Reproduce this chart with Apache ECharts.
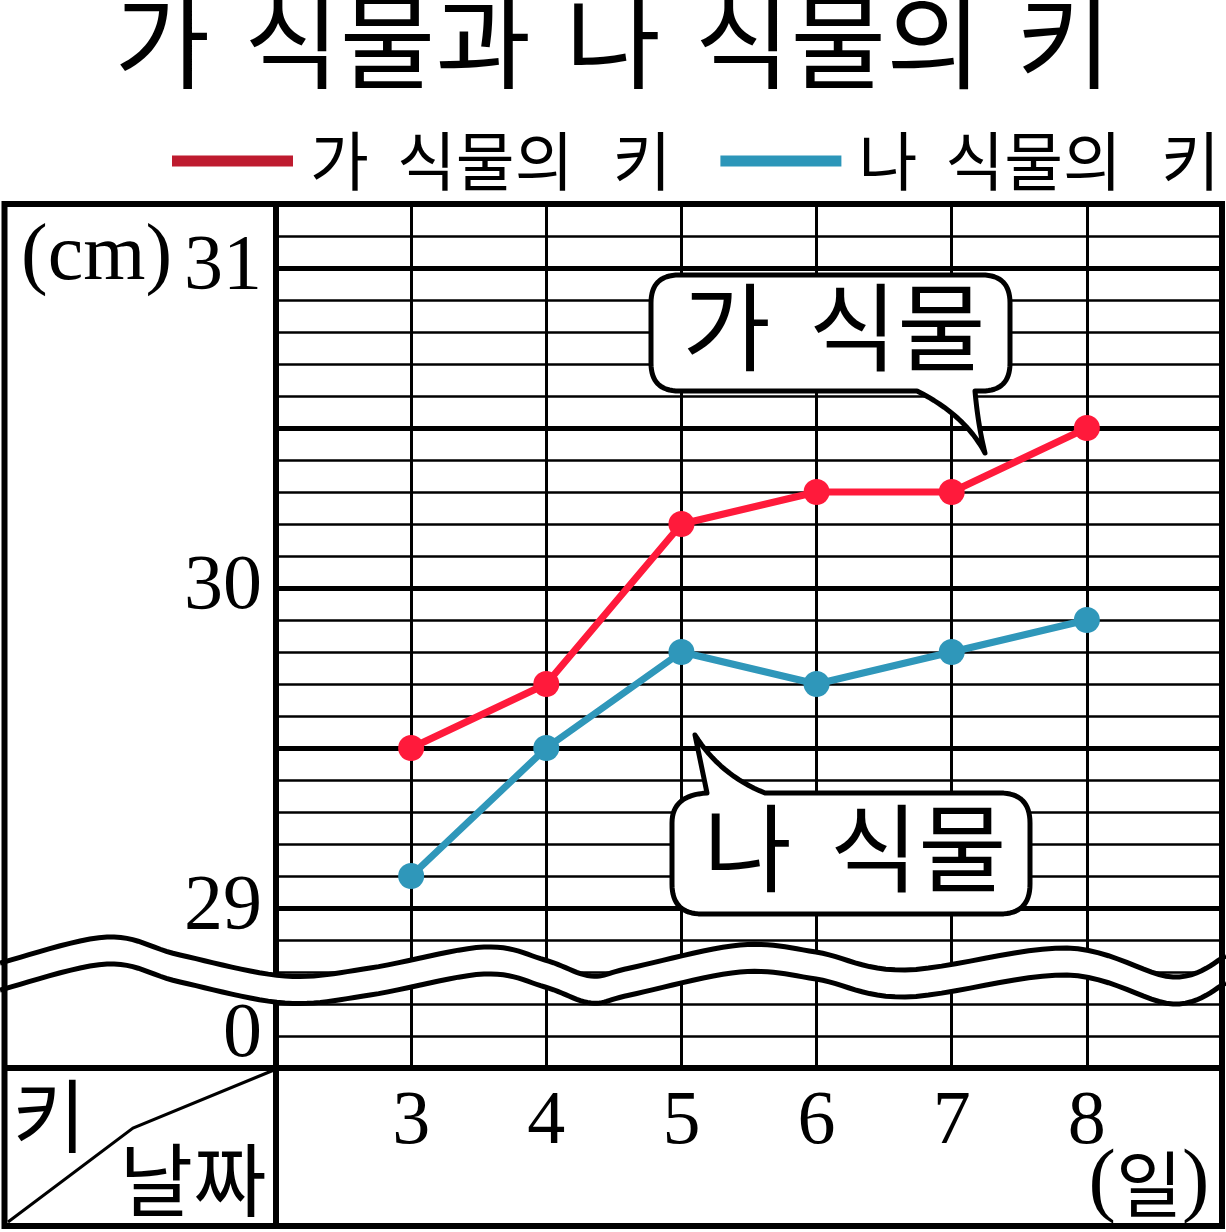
<!DOCTYPE html>
<html>
<head>
<meta charset="utf-8">
<script src="https://cdn.jsdelivr.net/npm/echarts@6/dist/echarts.min.js"></script>
<style>
html,body{margin:0;padding:0;background:#fff;}
#chart{width:1226px;height:1232px;}
</style>
</head>
<body>
<div id="chart"></div>
<script>
// ---- data ----
const days = [3, 4, 5, 6, 7, 8];
const plantA = [29.5, 29.7, 30.2, 30.3, 30.3, 30.5];
const plantB = [29.1, 29.5, 29.8, 29.7, 29.8, 29.9];
const seriesNames = ['가 식물의 키', '나 식물의 키'];
const yTickValues = [28.6, 29, 30, 31];
const yTickLabels = ['0', '29', '30', '31'];

const KR = 'Noto Sans CJK KR';
const SERIF = 'Liberation Serif';
const RED = '#FF1A3B', BLUE = '#2F97BA';
const RED_LEG = '#BE1B2F', BLUE_LEG = '#2C96B9';

const G = {left: 276, top: 204, width: 946, height: 864};

function near(v, t) { return Math.abs(v - t) < 1e-6; }

// sample a simple path (M, H, V, L, Q) into polygon points
function samplePath(cmds) {
  const pts = [];
  let cx = 0, cy = 0;
  cmds.forEach(c => {
    const t = c[0];
    if (t === 'M' || t === 'L') { cx = c[1]; cy = c[2]; pts.push([cx, cy]); }
    else if (t === 'H') { cx = c[1]; pts.push([cx, cy]); }
    else if (t === 'V') { cy = c[1]; pts.push([cx, cy]); }
    else if (t === 'Q') {
      const x0 = cx, y0 = cy, qx = c[1], qy = c[2], x1 = c[3], y1 = c[4];
      for (let i = 1; i <= 16; i++) {
        const s = i / 16, u = 1 - s;
        pts.push([u * u * x0 + 2 * u * s * qx + s * s * x1, u * u * y0 + 2 * u * s * qy + s * s * y1]);
      }
      cx = x1; cy = y1;
    }
  });
  return pts;
}

// Catmull-Rom sampling for smooth wave
function catmull(p, n) {
  const out = [];
  for (let i = 0; i < p.length - 1; i++) {
    const p0 = p[Math.max(0, i - 1)], p1 = p[i], p2 = p[i + 1], p3 = p[Math.min(p.length - 1, i + 2)];
    for (let k = 0; k < n; k++) {
      const t = k / n, t2 = t * t, t3 = t2 * t;
      const f = (a, b, c, d) => 0.5 * ((2 * b) + (-a + c) * t + (2 * a - 5 * b + 4 * c - d) * t2 + (-a + 3 * b - 3 * c + d) * t3);
      out.push([f(p0[0], p1[0], p2[0], p3[0]), f(p0[1], p1[1], p2[1], p3[1])]);
    }
  }
  out.push(p[p.length - 1]);
  return out;
}

const chart = echarts.init(document.getElementById('chart'), null, {renderer: 'canvas'});

// wave (broken-axis decoration) upper line key points
const waveKey = [[0,963],[107,937],[180,955],[285,976],[370,968],[484,947],[545,960],[591,976],[630,968],[740,945],[816,952],[905,970],[1067,948],[1173,977],[1226,956]];
const waveU = catmull(waveKey, 12);
const waveL = waveU.map(p => [p[0], p[1] + 27]);
const waveM = waveU.map(p => [p[0], p[1] + 13.5]);

const option = {
  animation: false,
  backgroundColor: '#fff',
  title: {
    left: 'center', top: -11, padding: 0,
    text: '{w|가}{s| }{w|식물과}{s| }{w|나}{s| }{w|식물의}{s| }{w|키}',
    textStyle: {
      fontSize: 104, fontFamily: KR, fontWeight: 'normal', color: '#000',
      rich: {
        w: {fontSize: 104, fontFamily: KR, color: '#000', lineHeight: 104},
        s: {width: 34, fontSize: 104, lineHeight: 104}
      }
    }
  },
  legend: {
    left: 172, top: 129, padding: 0,
    itemWidth: 121, itemHeight: 11, itemGap: 49,
    icon: 'rect',
    data: [
      {name: seriesNames[0], itemStyle: {color: RED_LEG}},
      {name: seriesNames[1], itemStyle: {color: BLUE_LEG}}
    ],
    formatter: function (name) {
      const p = name.split(' ');
      return '{g| }{w|' + p[0] + '}{s1| }{w|' + p[1] + '}{s2| }{w|' + p[2] + '}';
    },
    textStyle: {
      fontSize: 64, fontFamily: KR, color: '#000',
      rich: {
        w: {fontSize: 64, fontFamily: KR, color: '#000', lineHeight: 64},
        g: {width: 12},
        s1: {width: 28},
        s2: {width: 39}
      }
    }
  },
  grid: {left: G.left, top: G.top, width: G.width, height: G.height},
  xAxis: {
    type: 'value', min: 2, max: 9, interval: 1,
    axisLine: {show: false}, axisTick: {show: false},
    splitLine: {show: true, lineStyle: {color: '#000', width: 3}},
    axisLabel: {
      margin: 17, fontSize: 76, fontFamily: SERIF, color: '#000',
      showMinLabel: true, showMaxLabel: true,
      formatter: function (v) { return days.some(d => near(d, v)) ? String(Math.round(v)) : ''; }
    }
  },
  yAxis: [
    {
      type: 'value', min: 28.5, max: 31.2, interval: 0.1,
      axisLine: {show: false}, axisTick: {show: false},
      splitLine: {show: true, lineStyle: {color: '#000', width: 2.5}},
      axisLabel: {
        margin: 14, fontSize: 78, fontFamily: SERIF, color: '#000',
        padding: [10, 0, 0, 0],
        showMinLabel: true, showMaxLabel: true,
        formatter: function (v) {
          for (let i = 0; i < yTickValues.length; i++) if (near(v, yTickValues[i])) return yTickLabels[i];
          return '';
        }
      }
    },
    {
      type: 'value', min: 28.5, max: 31.2, interval: 0.5, position: 'left',
      axisLine: {show: false}, axisTick: {show: false}, axisLabel: {show: false},
      splitLine: {show: true, lineStyle: {color: '#000', width: 5}}
    }
  ],
  series: [
    {
      type: 'line', name: seriesNames[0],
      data: days.map((d, i) => [d, plantA[i]]),
      symbol: 'circle', symbolSize: 26,
      lineStyle: {width: 7, color: RED}, itemStyle: {color: RED},
      emphasis: {disabled: true}, z: 3
    },
    {
      type: 'line', name: seriesNames[1],
      data: days.map((d, i) => [d, plantB[i]]),
      symbol: 'circle', symbolSize: 26,
      lineStyle: {width: 7, color: BLUE}, itemStyle: {color: BLUE},
      emphasis: {disabled: true}, z: 3
    }
  ]
};
chart.setOption(option);

// speech bubble outlines
const bubbleA = samplePath([
  ['M', 679, 275], ['H', 982], ['Q', 1010, 275, 1010, 303], ['V', 363], ['Q', 1010, 391, 982, 391],
  ['H', 975], ['Q', 978, 425, 985, 453], ['Q', 965, 415, 917, 391], ['H', 679],
  ['Q', 651, 391, 651, 363], ['V', 303], ['Q', 651, 275, 679, 275]
]);
const bubbleB = samplePath([
  ['M', 672, 884], ['V', 823], ['Q', 672, 795, 707, 793], ['L', 695, 735], ['Q', 720, 775, 765, 793],
  ['H', 1000], ['Q', 1030, 793, 1030, 823], ['V', 884], ['Q', 1030, 914, 1000, 914], ['H', 702],
  ['Q', 672, 914, 672, 884]
]);

const right = G.left + G.width, bottom = G.top + G.height;
const graphics = [
  // dividers
  {type: 'line', z: 3, shape: {x1: G.left, y1: G.top, x2: G.left, y2: 1226}, style: {stroke: '#000', lineWidth: 6}},
  {type: 'line', z: 3, shape: {x1: 4.5, y1: bottom, x2: right, y2: bottom}, style: {stroke: '#000', lineWidth: 6}},
  // diagonal in the corner box
  {type: 'polyline', z: 3, shape: {points: [[8, 1222], [133, 1128], [G.left - 2, bottom + 2]]}, style: {stroke: '#000', lineWidth: 3, fill: null}},
  // wave band
  {type: 'polyline', z: 6, shape: {points: waveM}, style: {stroke: '#fff', lineWidth: 24, fill: null}},
  {type: 'polyline', z: 7, shape: {points: waveU}, style: {stroke: '#000', lineWidth: 5, fill: null}},
  {type: 'polyline', z: 7, shape: {points: waveL}, style: {stroke: '#000', lineWidth: 5, fill: null}},
  // speech bubbles
  {type: 'polygon', z: 8, shape: {points: bubbleA}, style: {fill: '#fff', stroke: '#000', lineWidth: 5, lineJoin: 'round'}},
  {type: 'polygon', z: 8, shape: {points: bubbleB}, style: {fill: '#fff', stroke: '#000', lineWidth: 5, lineJoin: 'round'}},
  {type: 'text', z: 9, x: 834, y: 327, style: {text: '{w|가}{s| }{w|식물}', align: 'center', verticalAlign: 'middle',
    rich: {w: {fontSize: 96, fontFamily: KR, fill: '#000', lineHeight: 96}, s: {width: 38}}}},
  {type: 'text', z: 9, x: 855, y: 848, style: {text: '{w|나}{s| }{w|식물}', align: 'center', verticalAlign: 'middle',
    rich: {w: {fontSize: 96, fontFamily: KR, fill: '#000', lineHeight: 96}, s: {width: 38}}}},
  // axis unit labels
  {type: 'text', z: 9, x: 21, y: 258, style: {text: '(cm)', font: '80px "Liberation Serif"', fill: '#000', align: 'left', verticalAlign: 'middle'}},
  {type: 'text', z: 9, x: 1149, y: 1184, style: {text: '{p|(}{k|일}{p|)}', align: 'center', verticalAlign: 'middle',
    rich: {p: {fontSize: 82, fontFamily: SERIF, fill: '#000', lineHeight: 84}, k: {fontSize: 72, fontFamily: KR, fill: '#000', lineHeight: 84}}}},
  {type: 'text', z: 9, x: 49, y: 1116, style: {text: '키', font: '80px "Noto Sans CJK KR"', fill: '#000', align: 'center', verticalAlign: 'middle'}},
  {type: 'text', z: 9, x: 193, y: 1180, style: {text: '날짜', font: '80px "Noto Sans CJK KR"', fill: '#000', align: 'center', verticalAlign: 'middle'}},
  // outer frame
  {type: 'rect', z: 10, shape: {x: 4.5, y: G.top, width: right - 4.5, height: 1226 - G.top}, style: {fill: null, stroke: '#000', lineWidth: 6}}
];
chart.setOption({graphic: graphics});
</script>
</body>
</html>
